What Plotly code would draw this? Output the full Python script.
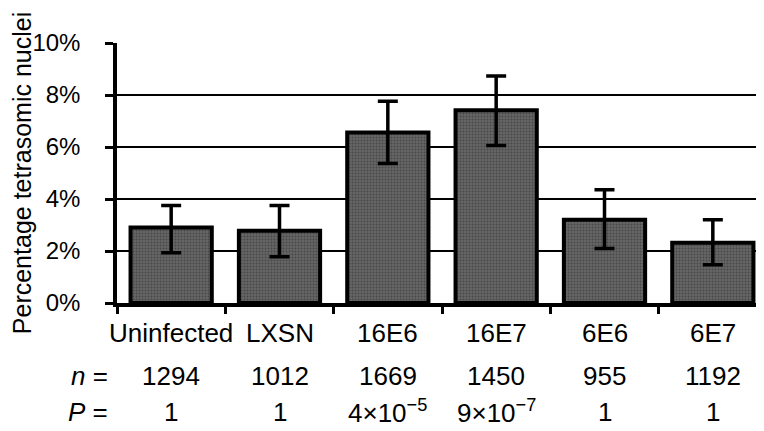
import plotly.graph_objects as go

categories = ["Uninfected", "LXSN", "16E6", "16E7", "6E6", "6E7"]
percent = [2.9, 2.78, 6.56, 7.41, 3.2, 2.32]
err_upper = [3.75, 3.75, 7.76, 8.73, 4.36, 3.2]
err_lower = [1.93, 1.78, 5.37, 6.06, 2.1, 1.47]
n_values = ["1294", "1012", "1669", "1450", "955", "1192"]
p_values = ["1", "1", "4×10<sup>−5</sup>", "9×10<sup>−7</sup>", "1", "1"]
y_ticks = [0, 2, 4, 6, 8, 10]
y_tick_labels = ["0%", "2%", "4%", "6%", "8%", "10%"]

xpos = list(range(len(categories)))
boundaries = [i - 0.5 for i in range(len(categories) + 1)]
plus = [u - v for u, v in zip(err_upper, percent)]
minus = [v - l for v, l in zip(percent, err_lower)]

FONT = "Liberation Sans, Arial, sans-serif"

fig = go.Figure()
fig.add_trace(go.Bar(
    x=xpos, y=percent, width=0.75,
    marker=dict(color="#505050",
                line=dict(color="black", width=4),
                pattern=dict(shape=".", fgcolor="#2a2a2a", bgcolor="#666666",
                             size=3, solidity=0.35)),
    error_y=dict(type="data", symmetric=False, array=plus, arrayminus=minus,
                 color="black", thickness=3.5, width=10),
    showlegend=False,
))

annotations = []
row_y = {"cat": -0.1154, "n": -0.2808, "p": -0.4192}
for i, c in enumerate(categories):
    for key, txt in (("cat", c), ("n", n_values[i]), ("p", p_values[i])):
        annotations.append(dict(x=xpos[i], y=row_y[key], xref="x", yref="paper", text=txt,
                                showarrow=False, xanchor="center", yanchor="middle",
                                font=dict(size=26, color="black", family=FONT)))
annotations.append(dict(x=-0.0108, y=row_y["n"], xref="paper", yref="paper", text="<i>n</i> =",
                        showarrow=False, xanchor="right", yanchor="middle",
                        font=dict(size=26, color="black", family=FONT)))
annotations.append(dict(x=-0.0108, y=row_y["p"], xref="paper", yref="paper", text="<i>P</i> =",
                        showarrow=False, xanchor="right", yanchor="middle",
                        font=dict(size=26, color="black", family=FONT)))

fig.update_layout(
    width=764, height=431,
    margin=dict(l=109, r=5, t=35, b=136),
    paper_bgcolor="white", plot_bgcolor="white",
    font=dict(family=FONT, color="black"),
    annotations=annotations,
    xaxis=dict(range=[-0.5, 5.5], tickvals=boundaries, ticks="outside", ticklen=7,
               tickwidth=3, tickcolor="black", showticklabels=False,
               showline=True, linewidth=3.5, linecolor="black", showgrid=False,
               zeroline=False, automargin=False),
    yaxis=dict(range=[0, 10], tickvals=y_ticks, ticktext=y_tick_labels,
               ticks="outside", ticklen=8, tickwidth=3, tickcolor="black",
               ticklabelstandoff=20, automargin=False,
               tickfont=dict(size=24, color="black", family=FONT),
               title=dict(text="Percentage tetrasomic nuclei", standoff=12,
                          font=dict(size=25, color="black", family=FONT)),
               showline=True, linewidth=3.5, linecolor="black",
               showgrid=True, gridcolor="black", gridwidth=1.5, zeroline=False),
)

fig.write_html("out.html")
